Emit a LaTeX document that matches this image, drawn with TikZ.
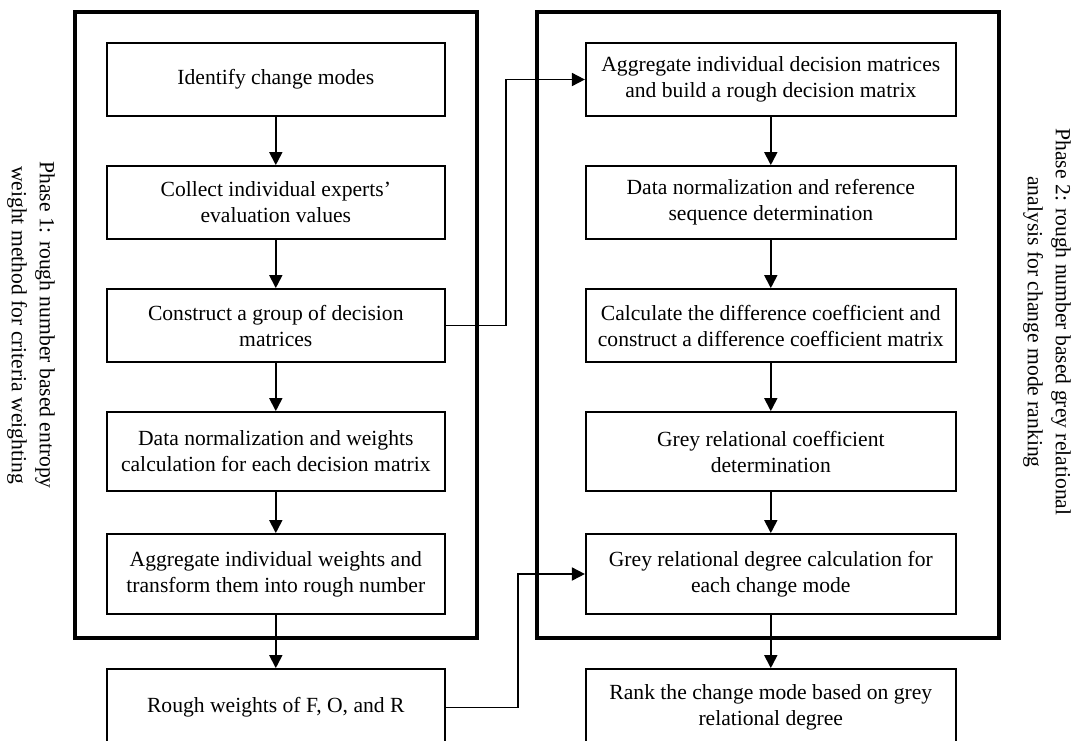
\documentclass[tikz,border=0pt]{standalone}
\usepackage{fontspec}
\setmainfont{Liberation Serif}
\usetikzlibrary{arrows.meta}
\begin{document}
\begin{tikzpicture}[x=1pt,y=-1pt,
  stepbox/.style={draw, line width=1.8pt, inner sep=0pt, align=center, font=\fontsize{21.6}{26}\selectfont},
  lbox/.style={stepbox, minimum width=338pt},
  rbox/.style={stepbox, minimum width=370pt},
  phase/.style={draw, line width=4.5pt, inner sep=0pt},
  arr/.style={line width=1.8pt, -{Triangle[length=13pt,width=13pt]}},
  sidelabel/.style={rotate=-90, align=center, inner sep=0pt, font=\fontsize{21.6}{28}\selectfont}]
\useasboundingbox (0,0) rectangle (1073,740);
% phase frames
\node[phase, minimum width=402pt, minimum height=626pt] (P1) at (275.8,325) {};
\node[phase, minimum width=462pt, minimum height=626pt] (P2) at (767.8,325) {};
% left column
\node[lbox, minimum height=73pt] (L1) at (275.8,79.5) {Identify change modes};
\node[lbox, minimum height=73pt] (L2) at (275.8,202.5) {Collect individual experts’\\evaluation values};
\node[lbox, minimum height=73pt] (L3) at (275.8,325.5) {Construct a group of decision\\matrices};
\node[lbox, minimum height=79pt] (L4) at (275.8,451.5) {Data normalization and weights\\calculation for each decision matrix};
\node[lbox, minimum height=80pt] (L5) at (275.8,574) {Aggregate individual weights and\\transform them into rough number};
\node[lbox, minimum height=77pt] (L6) at (275.8,707.5) {Rough weights of F, O, and R};
% right column
\node[rbox, minimum height=73pt] (R1) at (770.8,79.5) {Aggregate individual decision matrices\\and build a rough decision matrix};
\node[rbox, minimum height=73pt] (R2) at (770.8,202.5) {Data normalization and reference\\sequence determination};
\node[rbox, minimum height=73pt] (R3) at (770.8,325.5) {Calculate the difference coefficient and\\construct a difference coefficient matrix};
\node[rbox, minimum height=79pt] (R4) at (770.8,451.5) {Grey relational coefficient\\determination};
\node[rbox, minimum height=80pt] (R5) at (770.8,574) {Grey relational degree calculation for\\each change mode};
\node[rbox, minimum height=77pt] (R6) at (770.8,707.5) {Rank the change mode based on grey\\relational degree};
% side labels
\node[sidelabel] (S1) at (31,325) {Phase 1: rough number based entropy\\weight method for criteria weighting};
\node[sidelabel] (S2) at (1047,322) {Phase 2: rough number based grey relational\\analysis for change mode ranking};
% vertical arrows
\draw[arr] (L1) -- (L2);
\draw[arr] (L2) -- (L3);
\draw[arr] (L3) -- (L4);
\draw[arr] (L4) -- (L5);
\draw[arr] (L5) -- (L6);
\draw[arr] (R1) -- (R2);
\draw[arr] (R2) -- (R3);
\draw[arr] (R3) -- (R4);
\draw[arr] (R4) -- (R5);
\draw[arr] (R5) -- (R6);
% elbow connectors
\coordinate (k1) at (506,0);
\coordinate (k2) at (518,0);
\draw[arr] (L3.east) -- (L3.east -| k1) |- (R1.west);
\draw[arr] (L6.east) -- (L6.east -| k2) |- (R5.west);
\end{tikzpicture}
\end{document}
